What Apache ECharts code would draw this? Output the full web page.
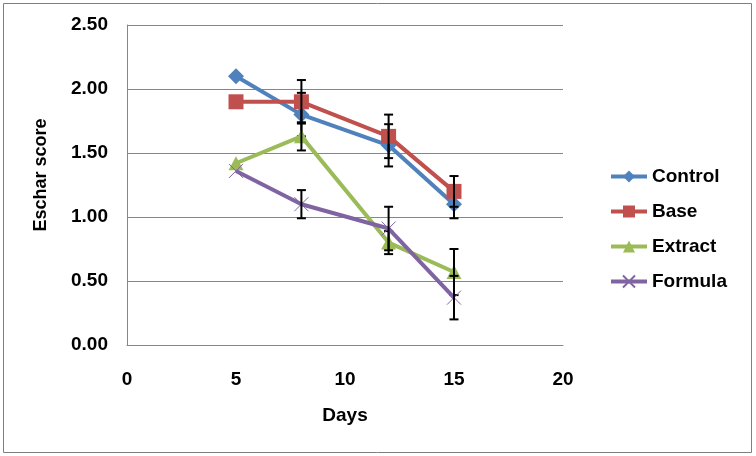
<!DOCTYPE html>
<html>
<head>
<meta charset="utf-8">
<script src="https://cdn.jsdelivr.net/npm/echarts@6/dist/echarts.min.js"></script>
<style>
html,body{margin:0;padding:0;background:#fff;}
#chart{width:756px;height:456px;}
</style>
</head>
<body>
<div id="chart"></div>
<script>
// ---- data ----
var days = [5, 8, 12, 15];
var seriesNames = ['Control', 'Base', 'Extract', 'Formula'];
var control = [2.10, 1.80, 1.56, 1.10];
var base = [1.90, 1.90, 1.63, 1.20];
var extract = [1.42, 1.63, 0.80, 0.57];
var formula = [1.36, 1.10, 0.91, 0.37];
// symmetric error (± value); null = no error bar
var controlErr = [null, 0.17, 0.165, 0.11];
var baseErr = [null, 0.17, 0.17, 0.12];
var extractErr = [null, 0.11, 0.09, 0.18];
var formulaErr = [null, 0.11, 0.17, 0.17];
var xTicks = [0, 5, 10, 15, 20];
var yTicks = [0, 0.5, 1.0, 1.5, 2.0, 2.5];

var colors = ['#4F81BD', '#C0504D', '#9BBB59', '#8064A2'];
var symbols = ['diamond', 'rect', 'triangle', 'path://M0 0L10 10M10 0L0 10'];
var symbolSizes = [[16, 16], [15, 15], [15, 14], [14, 14]];
var values = [control, base, extract, formula];
var errs = [controlErr, baseErr, extractErr, formulaErr];
var font = '"Liberation Sans", Arial, sans-serif';

var series = [];
seriesNames.forEach(function (name, i) {
  var isX = i === 3;
  series.push({
    name: name,
    type: 'line',
    data: days.map(function (d, k) { return [d, values[i][k]]; }),
    symbol: symbols[i],
    symbolSize: symbolSizes[i],
    showSymbol: true,
    lineStyle: { color: colors[i], width: 4 },
    itemStyle: isX ? { color: colors[i], borderColor: colors[i], borderWidth: 1 } : { color: colors[i], borderWidth: 0 },
    emphasis: { disabled: true },
    animation: false,
    z: 2 + i * 2
  });
  series.push({
    name: name + ' error',
    type: 'custom',
    data: days.map(function (d, k) { return [d, values[i][k], errs[i][k]]; }).filter(function (r) { return r[2] != null; }),
    renderItem: function (params, api) {
      var x = api.value(0), y = api.value(1), e = api.value(2);
      var top = api.coord([x, y + e]);
      var bot = api.coord([x, y - e]);
      var hw = 4.5;
      var st = { stroke: '#000', lineWidth: 2 };
      return {
        type: 'group',
        children: [
          { type: 'line', shape: { x1: top[0], y1: top[1], x2: bot[0], y2: bot[1] }, style: st },
          { type: 'line', shape: { x1: top[0] - hw, y1: top[1], x2: top[0] + hw, y2: top[1] }, style: st },
          { type: 'line', shape: { x1: bot[0] - hw, y1: bot[1], x2: bot[0] + hw, y2: bot[1] }, style: st }
        ]
      };
    },
    encode: { x: 0, y: 1 },
    silent: true,
    animation: false,
    z: 3 + i * 2
  });
});

var chart = echarts.init(document.getElementById('chart'), null, { renderer: 'canvas' });
chart.setOption({
  backgroundColor: '#fff',
  animation: false,
  textStyle: { fontFamily: font },
  graphic: [{
    type: 'rect',
    shape: { x: 3.5, y: 3.5, width: 748, height: 449 },
    style: { fill: 'none', stroke: '#7f7f7f', lineWidth: 1 },
    silent: true
  }],
  grid: { left: 127, right: 193, top: 25, bottom: 111, containLabel: false },
  legend: {
    data: seriesNames,
    orient: 'vertical',
    left: 604,
    top: 162,
    itemWidth: 36,
    itemHeight: 15,
    itemGap: 16,
    lineStyle: { width: 4 },
    textStyle: { fontFamily: font, fontWeight: 'bold', fontSize: 19, color: '#000' },
    selectedMode: false
  },
  xAxis: {
    type: 'value',
    min: xTicks[0],
    max: xTicks[xTicks.length - 1],
    interval: 5,
    name: 'Days',
    nameLocation: 'middle',
    nameGap: 61,
    nameTextStyle: { fontFamily: font, fontWeight: 'bold', fontSize: 19, color: '#000' },
    axisLine: { show: true, lineStyle: { color: '#868686', width: 1 } },
    axisTick: { show: false },
    splitLine: { show: false },
    axisLabel: { fontFamily: font, fontWeight: 'bold', fontSize: 19, color: '#000', margin: 25 }
  },
  yAxis: {
    type: 'value',
    min: yTicks[0],
    max: yTicks[yTicks.length - 1],
    interval: 0.5,
    name: 'Eschar score',
    nameLocation: 'middle',
    nameGap: 77,
    nameRotate: 90,
    nameTextStyle: { fontFamily: font, fontWeight: 'bold', fontSize: 18, color: '#000', padding: [0, 0, 0, 20] },
    axisLine: { show: true, lineStyle: { color: '#868686', width: 1 } },
    axisTick: { show: false },
    splitLine: { show: true, lineStyle: { color: '#868686', width: 1 } },
    axisLabel: { fontFamily: font, fontWeight: 'bold', fontSize: 19, color: '#000', margin: 19,
      formatter: function (v) { return v.toFixed(2); } }
  },
  series: series
});
</script>
</body>
</html>
